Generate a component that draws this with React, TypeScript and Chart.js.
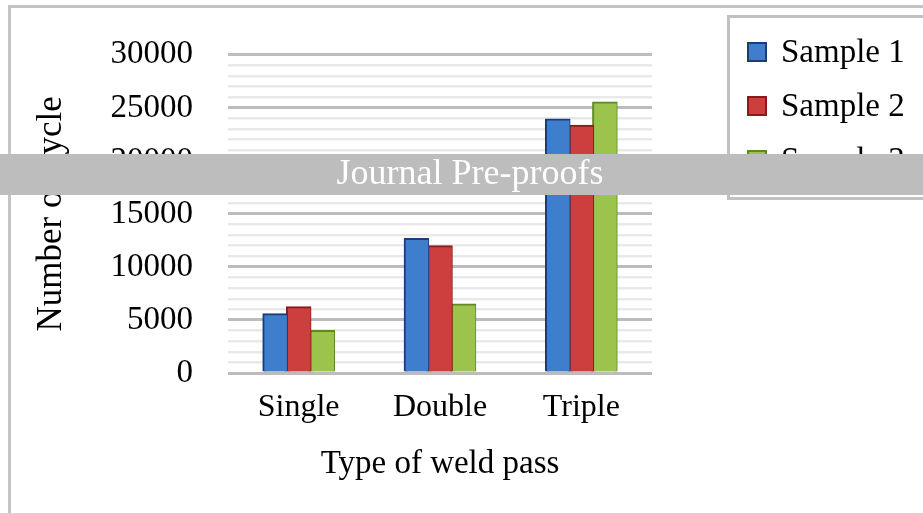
import React, { useEffect, useRef } from "react";
import { Chart, registerables } from "chart.js";

Chart.register(...registerables);

const categories = ["Single", "Double", "Triple"];
const sample1 = [5550, 12640, 23900];
const sample2 = [6200, 11950, 23300];
const sample3 = [3950, 6450, 25500];
const seriesNames = ["Sample 1", "Sample 2", "Sample 3"];
const yMin = 0;
const yMax = 30000;
const yMajorStep = 5000;
const yMinorStep = 1000;
const xTitle = "Type of weld pass";
const yTitle = "Number of cycle";
const bannerText = "Journal Pre-proofs";

const FONT = "'Liberation Serif', 'Times New Roman', serif";
const fills = ["#3f7ecc", "#cd3f3f", "#9cc44c"];
const edges = ["#1a3c78", "#8a1b1b", "#5d8a22"];

const decorPlugin = {
  id: "decor",
  beforeDraw(chart: any) {
    const ctx = chart.ctx;
    ctx.save();
    ctx.fillStyle = "#ffffff";
    ctx.fillRect(0, 0, chart.width, chart.height);
    ctx.fillStyle = "#c4c4c4";
    ctx.fillRect(8, 5, chart.width - 8, 3);
    ctx.fillRect(8, 5, 3, chart.height - 5);
    ctx.restore();
  },
  afterDraw(chart: any) {
    const ctx = chart.ctx;
    ctx.save();
    // legend box
    ctx.fillStyle = "#ffffff";
    ctx.fillRect(728, 16, 200, 182);
    ctx.strokeStyle = "#c0c0c0";
    ctx.lineWidth = 3;
    ctx.strokeRect(728.5, 16.5, 200, 182);
    chart.data.datasets.forEach((ds: any, i: number) => {
      const cy = 52 + i * 54;
      ctx.fillStyle = ds.borderColor;
      ctx.fillRect(747, cy - 10, 20, 20);
      ctx.fillStyle = ds.backgroundColor;
      ctx.fillRect(749, cy - 8, 16, 16);
      ctx.fillStyle = "#000";
      ctx.font = `33px ${FONT}`;
      ctx.textBaseline = "middle";
      ctx.textAlign = "left";
      ctx.fillText(ds.label, 781, cy + 1);
    });
    // banner
    ctx.fillStyle = "#bdbdbd";
    ctx.fillRect(0, 154, chart.width, 41);
    ctx.fillStyle = "#ffffff";
    ctx.font = `36px ${FONT}`;
    ctx.textAlign = "center";
    ctx.textBaseline = "middle";
    ctx.fillText(bannerText, 470, 175);
    ctx.restore();
  },
};

export default function App() {
  const ref = useRef<HTMLCanvasElement | null>(null);
  useEffect(() => {
    if (!ref.current) return;
    const series = [sample1, sample2, sample3];
    const chart = new Chart(ref.current, {
      type: "bar",
      data: {
        labels: categories,
        datasets: series.map((d, i) => ({
          label: seriesNames[i],
          data: d,
          backgroundColor: fills[i],
          borderColor: edges[i],
          borderWidth: { left: 2, top: 2, right: 1, bottom: 0 },
          borderSkipped: "bottom",
          inflateAmount: 1,
          categoryPercentage: 0.5,
          barPercentage: 1.0,
        })),
      },
      options: {
        animation: false,
        responsive: false,
        layout: { padding: { left: 0, top: 52, right: 271, bottom: 0 } },
        plugins: {
          legend: { display: false },
          tooltip: { enabled: false },
        },
        scales: {
          x: {
            grid: { display: false },
            border: { display: false },
            ticks: {
              color: "#000",
              font: { family: FONT, size: 32 },
              padding: 7,
            },
            title: {
              display: true,
              text: xTitle,
              color: "#000",
              font: { family: FONT, size: 33 },
              padding: { top: 0, bottom: 29 },
            },
            afterFit: (s: any) => {
              s.height = 140;
            },
          },
          y: {
            min: yMin,
            max: yMax,
            border: { display: false },
            grid: {
              drawTicks: false,
              color: (c: any) =>
                c.tick && c.tick.value % yMajorStep === 0 ? "#bcbcbc" : "#e9e9e9",
              lineWidth: (c: any) =>
                c.tick && c.tick.value % yMajorStep === 0 ? 3 : 2.5,
            },
            ticks: {
              stepSize: yMinorStep,
              autoSkip: false,
              color: "#000",
              font: { family: FONT, size: 33 },
              padding: 35,
              callback: (v: any) => (Number(v) % yMajorStep === 0 ? String(v) : ""),
            },
            title: {
              display: true,
              text: yTitle,
              color: "#000",
              font: { family: FONT, size: 35 },
              padding: { top: 31, bottom: 0 },
            },
            afterFit: (s: any) => {
              s.width = 228;
            },
          },
        },
      },
      plugins: [decorPlugin],
    });
    return () => chart.destroy();
  }, []);
  return (
    <div style={{ position: "fixed", left: 0, top: 0, width: 923, height: 513, background: "#fff" }}>
      <canvas ref={ref} width={923} height={513} style={{ width: 923, height: 513, display: "block" }} />
    </div>
  );
}
